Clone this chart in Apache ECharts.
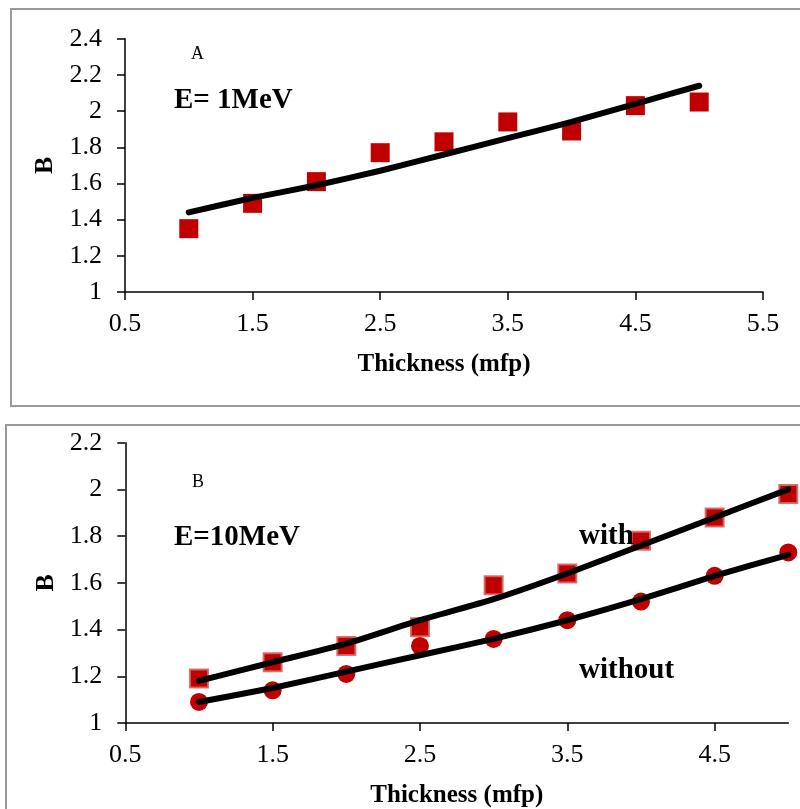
<!DOCTYPE html>
<html>
<head>
<meta charset="utf-8">
<script src="https://cdn.jsdelivr.net/npm/echarts@6/dist/echarts.min.js"></script>
<style>
  html, body { margin: 0; padding: 0; background: #fff; }
  #chart { width: 800px; height: 809px; }
</style>
</head>
<body>
<div id="chart"></div>
<script>
// Build-up factor B versus shield thickness (mfp)
const thickness = [1, 1.5, 2, 2.5, 3, 3.5, 4, 4.5, 5];

// Panel A: E = 1 MeV
const b1MeV     = [1.35, 1.49, 1.61, 1.77, 1.83, 1.94, 1.89, 2.03, 2.05];
const b1MeVFit  = [1.44, 1.52, 1.59, 1.67, 1.76, 1.85, 1.94, 2.04, 2.14];

// Panel B: E = 10 MeV, with and without
const b10With       = [1.19, 1.26, 1.33, 1.41, 1.59, 1.64, 1.78, 1.88, 1.98];
const b10WithFit    = [1.18, 1.26, 1.34, 1.44, 1.53, 1.64, 1.76, 1.88, 2.00];
const b10Without    = [1.09, 1.14, 1.21, 1.33, 1.36, 1.44, 1.52, 1.63, 1.73];
const b10WithoutFit = [1.09, 1.15, 1.22, 1.29, 1.36, 1.44, 1.53, 1.63, 1.72];

const xTicksA = [0.5, 1.5, 2.5, 3.5, 4.5, 5.5];
const xTicksB = [0.5, 1.5, 2.5, 3.5, 4.5];

const FONT = "'Liberation Serif', 'Times New Roman', serif";
const RED = '#C00000';

const pairs = (xs, ys) => xs.map((x, i) => [x, ys[i]]);

function xAxisCfg(gridIndex, min, max, ticks) {
  return {
    type: 'value', gridIndex, min, max, interval: 1,
    name: 'Thickness (mfp)', nameLocation: 'middle', nameGap: 60,
    nameTextStyle: { fontFamily: FONT, fontSize: 25, fontWeight: 'bold', color: '#000' },
    axisLine: { show: true, onZero: false, lineStyle: { color: '#000', width: 1.5 } },
    axisTick: { show: true, inside: false, length: 8, customValues: ticks, lineStyle: { color: '#000', width: 1.5 } },
    axisLabel: { customValues: ticks, margin: 19, fontFamily: FONT, fontSize: 26, color: '#000',
                 formatter: v => String(v) },
    splitLine: { show: false }
  };
}

function yAxisCfg(gridIndex, min, max) {
  return {
    type: 'value', gridIndex, min, max, interval: 0.2,
    name: 'B', nameLocation: 'middle', nameGap: 66, nameRotate: 90,
    nameTextStyle: { fontFamily: FONT, fontSize: 26, fontWeight: 'bold', color: '#000' },
    axisLine: { show: true, lineStyle: { color: '#000', width: 1.5 } },
    axisTick: { show: true, inside: false, length: 8, lineStyle: { color: '#000', width: 1.5 } },
    axisLabel: { margin: 23, fontFamily: FONT, fontSize: 26, color: '#000',
                 formatter: v => String(Math.round(v * 10) / 10) },
    splitLine: { show: false }
  };
}

function fitLine(xi, yi, data) {
  return {
    type: 'line', xAxisIndex: xi, yAxisIndex: yi, data,
    smooth: 0.2,
    showSymbol: false, symbol: 'none', z: 5,
    lineStyle: { color: '#000', width: 6, cap: 'round', join: 'round' }
  };
}

function textEl(x, y, text, size, bold) {
  return {
    type: 'text', left: x, top: y, z: 10,
    style: { text, fontFamily: FONT, fontSize: size, fontWeight: bold ? 'bold' : 'normal',
             fill: '#000', textVerticalAlign: 'middle' }
  };
}

const chart = echarts.init(document.getElementById('chart'), null, { renderer: 'canvas' });

chart.setOption({
  backgroundColor: '#fff',
  animation: false,
  grid: [
    { left: 125, top: 38.7, width: 638, height: 253.3 },
    { left: 125.3, top: 442.7, width: 663, height: 280.6 }
  ],
  xAxis: [xAxisCfg(0, 0.5, 5.5, xTicksA), xAxisCfg(1, 0.5, 5, xTicksB)],
  yAxis: [yAxisCfg(0, 1, 2.4), yAxisCfg(1, 1, 2.2)],
  series: [
    { type: 'scatter', xAxisIndex: 0, yAxisIndex: 0, symbol: 'rect', symbolSize: 19,
      itemStyle: { color: RED, opacity: 1 }, data: pairs(thickness, b1MeV) },
    fitLine(0, 0, pairs(thickness, b1MeVFit)),
    { type: 'scatter', xAxisIndex: 1, yAxisIndex: 1, symbol: 'rect', symbolSize: 18,
      itemStyle: { color: RED, opacity: 1, borderColor: 'rgba(214,100,100,0.9)', borderWidth: 2 },
      data: pairs(thickness, b10With) },
    { type: 'scatter', xAxisIndex: 1, yAxisIndex: 1, symbol: 'circle', symbolSize: 18,
      itemStyle: { color: RED, opacity: 1 }, data: pairs(thickness, b10Without) },
    fitLine(1, 1, pairs(thickness, b10WithFit)),
    fitLine(1, 1, pairs(thickness, b10WithoutFit))
  ],
  graphic: [
    { type: 'rect', shape: { x: 11, y: 9, width: 820, height: 397 }, z: -1,
      style: { fill: 'none', stroke: '#9a9a9a', lineWidth: 2 } },
    { type: 'rect', shape: { x: 6, y: 425, width: 820, height: 420 }, z: -1,
      style: { fill: 'none', stroke: '#9a9a9a', lineWidth: 2 } },
    textEl(191, 45, 'A', 18, false),
    textEl(174, 86, 'E= 1MeV', 29, true),
    textEl(192, 473, 'B', 18, false),
    textEl(174, 523, 'E=10MeV', 29, true),
    textEl(579, 522, 'with', 29, true),
    textEl(579, 656, 'without', 29, true)
  ]
});
</script>
</body>
</html>
